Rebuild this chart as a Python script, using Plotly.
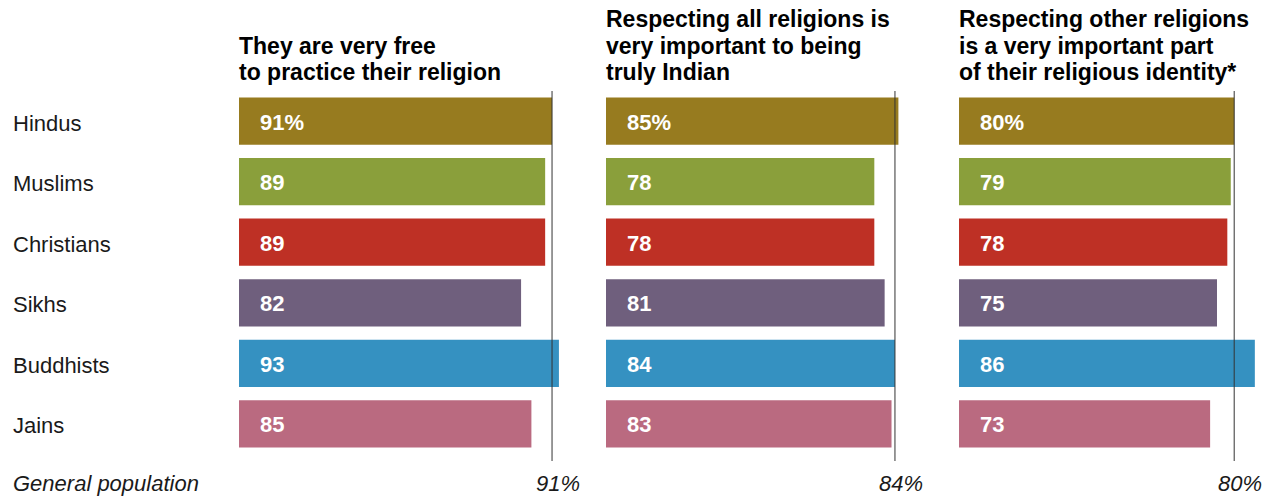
import plotly.graph_objects as go

W, H = 1271, 496

categories = ["Hindus", "Muslims", "Christians", "Sikhs", "Buddhists", "Jains"]
colors = ["#977B1F", "#8A9F3B", "#BE3025", "#6F5F7D", "#3591C1", "#BA6A80"]

free_practice = [91, 89, 89, 82, 93, 85]
respect_indian = [85, 78, 78, 81, 84, 83]
respect_identity = [80, 79, 78, 75, 86, 73]

general_population = [91, 84, 80]

titles = [
    ["They are very free", "to practice their religion"],
    ["Respecting all religions is", "very important to being", "truly Indian"],
    ["Respecting other religions", "is a very important part", "of their religious identity*"],
]

series = [free_practice, respect_indian, respect_identity]

# layout geometry (pixels)
px_per_unit = 3.44
panel_starts = [239, 606, 959]
panel_ends = [583, 950, 1271]
bar_top_px, bar_bottom_px = 90.75, 454.25

fig = go.Figure()

title_font = dict(family="Liberation Sans, Arial", size=23, color="#000")
label_font = dict(family="Liberation Sans, Arial", size=22, color="#1a1a1a")
value_font = dict(family="Liberation Sans, Arial", size=22, color="#fff")
gen_font = dict(family="Liberation Sans, Arial", size=22, color="#1a1a1a")

annotations = []
shapes = []

for i, vals in enumerate(series):
    xa = "x" if i == 0 else f"x{i+1}"
    fig.add_trace(go.Bar(
        x=vals, y=categories, orientation="h",
        marker=dict(color=colors, line=dict(width=0)),
        xaxis=xa, yaxis="y", showlegend=False, hoverinfo="x+y",
    ))
    for j, (c, v) in enumerate(zip(categories, vals)):
        annotations.append(dict(
            x=0, y=c, xref=xa, yref="y",
            text=f"<b>{v}%</b>" if j == 0 else f"<b>{v}</b>",
            showarrow=False, xanchor="left", yanchor="middle",
            xshift=19, yshift=-1, font=value_font,
        ))
    # general population reference line
    shapes.append(dict(
        type="line", xref=xa, yref="paper",
        x0=general_population[i], x1=general_population[i],
        y0=1 - 461 / H, y1=1 - 91 / H,
        line=dict(color="#333", width=1), layer="above",
    ))
    annotations.append(dict(
        x=general_population[i], y=1 - 483 / H, xref=xa, yref="paper",
        text=f"<i>{general_population[i]}%</i>", showarrow=False,
        xanchor="center", yanchor="middle", xshift=6, font=gen_font,
    ))
    n = len(titles[i])
    for k, line in enumerate(titles[i]):
        yc = 72 - (n - 1 - k) * 26.5
        annotations.append(dict(
            x=panel_starts[i] / W, y=1 - yc / H, xref="paper", yref="paper",
            text=f"<b>{line}</b>", showarrow=False, align="left",
            xanchor="left", yanchor="middle", xshift=-2, font=title_font,
        ))

for c in categories:
    annotations.append(dict(
        x=13 / W, y=c, xref="paper", yref="y", text=c, showarrow=False,
        xanchor="left", yanchor="middle", xshift=-2, yshift=-2, font=label_font,
    ))

annotations.append(dict(
    x=13 / W, y=1 - 483 / H, xref="paper", yref="paper",
    text="<i>General population</i>", showarrow=False,
    xanchor="left", yanchor="middle", xshift=-2, font=gen_font,
))

layout_axes = {}
for i in range(3):
    key = "xaxis" if i == 0 else f"xaxis{i+1}"
    span = (panel_ends[i] - panel_starts[i]) / px_per_unit
    layout_axes[key] = dict(
        domain=[panel_starts[i] / W, panel_ends[i] / W], range=[0, span],
        visible=False, anchor="y", fixedrange=True,
    )

fig.update_layout(
    width=W, height=H,
    margin=dict(l=0, r=0, t=0, b=0),
    paper_bgcolor="#fff", plot_bgcolor="#fff",
    bargap=0.22,
    yaxis=dict(
        domain=[1 - bar_bottom_px / H, 1 - bar_top_px / H],
        categoryorder="array", categoryarray=categories,
        autorange="reversed", visible=False, fixedrange=True,
    ),
    annotations=annotations, shapes=shapes,
    **layout_axes,
)

fig.write_html(
    "out.html",
    config={"displayModeBar": False},
    post_script="document.body.style.margin='0';document.body.style.overflow='hidden';",
)
